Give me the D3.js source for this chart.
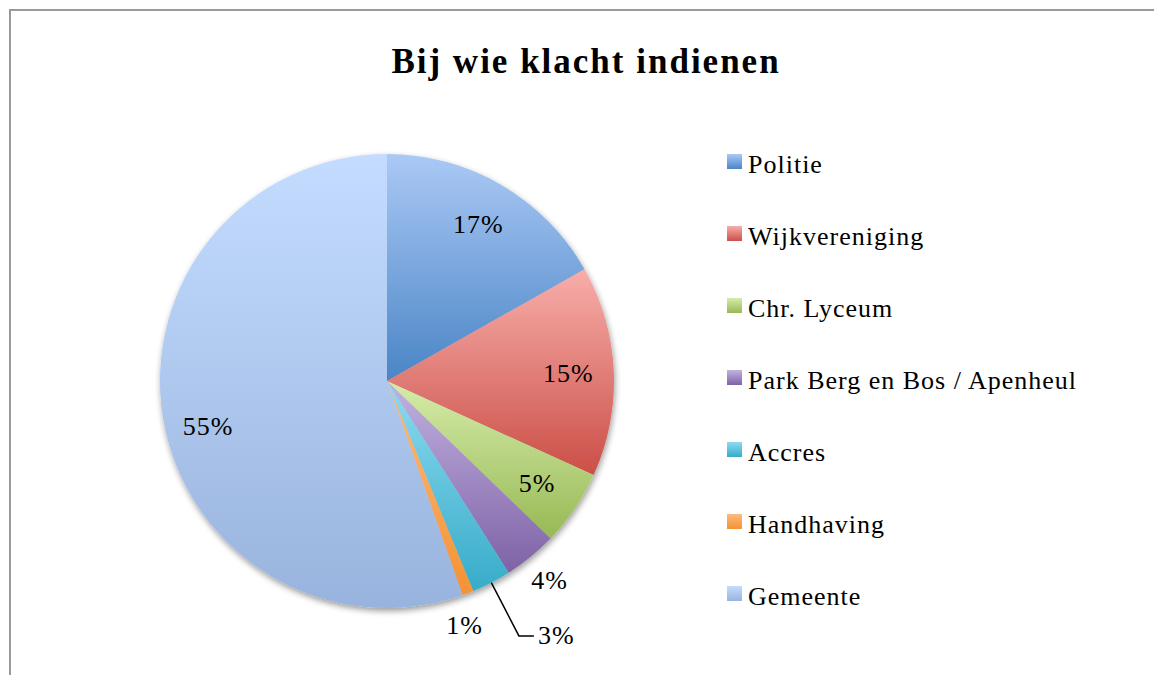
<!DOCTYPE html>
<html>
<head>
<meta charset="utf-8">
<script src="https://cdn.jsdelivr.net/npm/d3@7"></script>
<style>
  html, body { margin: 0; padding: 0; background: #fff; overflow: hidden; }
  svg { display: block; }
  text { font-family: "Liberation Serif", "DejaVu Serif", serif; fill: #000; }
</style>
</head>
<body>
<div id="chart"></div>
<script>
// data (labels are rounded percentages)
const categories = ['Politie', 'Wijkvereniging', 'Chr. Lyceum', 'Park Berg en Bos / Apenheul', 'Accres', 'Handhaving', 'Gemeente'];
const shares = [16.8, 15.0, 5.4, 3.8, 2.8, 0.8, 55.4];
const chartTitle = 'Bij wie klacht indienen';

// office-like gradient colours, light top -> dark bottom
const topColors = ['#abc9f5', '#f8aeaa', '#d6ecaa', '#c2b2e0', '#8ddaf1', '#fcbb80', '#c4dcff'];
const bottomColors = ['#4a85c6', '#cb4f47', '#97b954', '#7e62a6', '#37acc9', '#f59233', '#98b3dd'];

const width = 1154, height = 675;
const cx = 387, cy = 381, R = 227;

// small nudges for labels that excel moved around (px)
const labelNudge = {Gemeente: [0, 15], Handhaving: [-14, 4]};

const svg = d3.select('#chart').append('svg')
    .attr('width', width).attr('height', height);

const defs = svg.append('defs');

categories.forEach((c, i) => {
    const g = defs.append('linearGradient').attr('id', 'grad-' + i)
        .attr('x1', 0).attr('y1', 0).attr('x2', 0).attr('y2', 1);
    g.append('stop').attr('offset', '0%').attr('stop-color', topColors[i]);
    g.append('stop').attr('offset', '100%').attr('stop-color', bottomColors[i]);
});

// soft shadow under the pie
const f = defs.append('filter').attr('id', 'shadow')
    .attr('x', '-10%').attr('y', '-10%').attr('width', '120%').attr('height', '120%');
f.append('feGaussianBlur').attr('in', 'SourceAlpha').attr('stdDeviation', 3);
f.append('feOffset').attr('dx', 1).attr('dy', 3).attr('result', 'blur');
f.append('feComponentTransfer').append('feFuncA').attr('type', 'linear').attr('slope', 0.4);
const merge = f.append('feMerge');
merge.append('feMergeNode');
merge.append('feMergeNode').attr('in', 'SourceGraphic');

// chart frame (cut off at right and bottom like the original)
svg.append('rect')
    .attr('x', 10).attr('y', 10)
    .attr('width', width + 20).attr('height', height + 20)
    .attr('fill', '#fff').attr('stroke', '#9a9a9a').attr('stroke-width', 2);

// title
svg.append('text')
    .attr('x', 586).attr('y', 73)
    .attr('text-anchor', 'middle')
    .attr('font-size', '35px').attr('font-weight', 'bold')
    .attr('letter-spacing', '2px')
    .text(chartTitle);

const data = categories.map((c, i) => ({name: c, value: shares[i], i}));

const pie = d3.pie().sort(null).value(d => d.value);
const arcs = pie(data);
const arc = d3.arc().innerRadius(0).outerRadius(R);

const pieG = svg.append('g').attr('transform', `translate(${cx},${cy})`);
const sliceG = pieG.append('g').attr('filter', 'url(#shadow)');

sliceG.selectAll('path').data(arcs).join('path')
    .attr('d', arc)
    .attr('fill', d => `url(#grad-${d.data.i})`);

// labels
const fmt = v => Math.round(v) + '%';
const midA = d => (d.startAngle + d.endAngle) / 2;
const polar = (a, r) => [Math.sin(a) * r, -Math.cos(a) * r];

arcs.forEach(d => {
    const a = midA(d);
    if (d.data.name === 'Accres') {
        // pulled out with a leader line
        const p0 = polar(a, R);
        const p1 = polar(a, R + 60);
        const p2 = [p1[0] + 15, p1[1]];
        pieG.append('path')
            .attr('d', d3.line()([p0, p1, p2]))
            .attr('fill', 'none').attr('stroke', '#000').attr('stroke-width', 1.5);
        pieG.append('text')
            .attr('x', p2[0] + 4).attr('y', p2[1])
            .attr('dy', '0.33em')
            .attr('font-size', '26px').attr('letter-spacing', '1px')
            .text(fmt(d.data.value));
        return;
    }
    const r = d.data.value >= 5 ? R * 0.8 : R + 30;
    const p = polar(a, r);
    const n = labelNudge[d.data.name] || [0, 0];
    pieG.append('text')
        .attr('x', p[0] + n[0]).attr('y', p[1] + n[1])
        .attr('dy', '0.33em')
        .attr('text-anchor', 'middle')
        .attr('font-size', '26px').attr('letter-spacing', '1px')
        .text(fmt(d.data.value));
});

// legend
const legend = svg.append('g').attr('transform', 'translate(727,173)');
const rows = legend.selectAll('g').data(data).join('g')
    .attr('transform', (d, i) => `translate(0,${i * 72})`);
rows.append('rect')
    .attr('x', 0).attr('y', -19).attr('width', 15).attr('height', 15)
    .attr('fill', d => `url(#grad-${d.i})`);
rows.append('text')
    .attr('x', 21).attr('y', 0)
    .attr('font-size', '26px').attr('letter-spacing', '1px')
    .text(d => d.name);
</script>
</body>
</html>
